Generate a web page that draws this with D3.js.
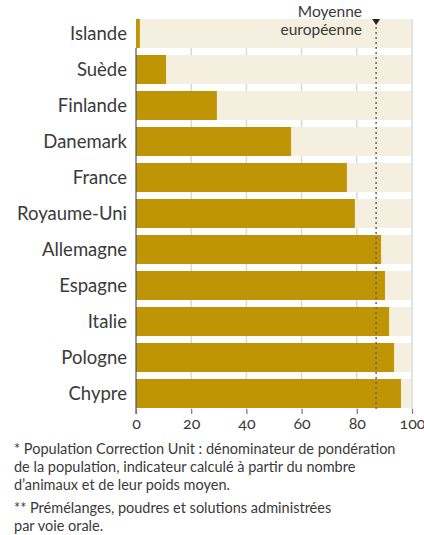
<!DOCTYPE html>
<html><head><meta charset="utf-8">
<script src="https://cdn.jsdelivr.net/npm/d3@7"></script>
<style>
body{margin:0;background:#fff;}
svg{display:block;font-family:Lato,"Open Sans",sans-serif;}
.tick text{font-variant-numeric:oldstyle-nums;}
</style></head>
<body>
<script>
const countries = ["Islande","Suède","Finlande","Danemark","France","Royaume-Uni","Allemagne","Espagne","Italie","Pologne","Chypre"];
const values = [1.4, 10.9, 29.3, 56.2, 76.4, 79.3, 88.8, 90.2, 91.7, 93.5, 96.0];
const euAverage = 87.0;
const ticks = [0, 20, 40, 60, 80, 100];
const avgLabel = ["Moyenne", "européenne"];
const notes = [
  ["* Population Correction Unit : dénominateur de pondération", "de la population, indicateur calculé à partir du nombre", "d’animaux et de leur poids moyen."],
  ["** Prémélanges, poudres et solutions administrées", "par voie orale."]
];

const W = 424, H = 535;
const textColor = "#3a3a3a";
const svg = d3.select("body").append("svg").attr("width", W).attr("height", H);
const x = d3.scaleLinear().domain([0, 100]).range([136, 412]);
const y = d3.scaleBand().domain(countries).range([19, 408]).paddingInner(7 / 36).paddingOuter(0);

// gridlines
svg.append("g").selectAll("line").data(ticks.slice(1)).join("line")
  .attr("x1", d => x(d)).attr("x2", d => x(d))
  .attr("y1", y(countries[0])).attr("y2", 409)
  .attr("stroke", "#d9d9d9").attr("stroke-width", 1.5);

// backgrounds
svg.append("g").selectAll("rect").data(countries).join("rect")
  .attr("x", x(0)).attr("y", d => y(d))
  .attr("width", x(100) - x(0) - 1).attr("height", y.bandwidth())
  .attr("fill", "#f5efdf");

// bars
svg.append("g").selectAll("rect").data(countries).join("rect")
  .attr("x", x(0)).attr("y", d => y(d))
  .attr("width", (d, i) => x(values[i]) - x(0)).attr("height", y.bandwidth())
  .attr("fill", "#bf9505");

// zero line
svg.append("line").attr("x1", x(0)).attr("x2", x(0))
  .attr("y1", y(countries[0]) + y.bandwidth()).attr("y2", 414)
  .attr("stroke", "#555").attr("stroke-width", 1.2);

// axis
const axis = svg.append("g").attr("transform", "translate(0,409)")
  .call(d3.axisBottom(x).tickValues(ticks).tickSize(5).tickPadding(4));
axis.select(".domain").remove();
axis.selectAll(".tick line").attr("stroke", "#777").attr("stroke-width", 1.2);
axis.selectAll(".tick text").attr("font-size", 16).attr("fill", textColor)
  .attr("font-family", "Lato,'Open Sans',sans-serif");

// country labels
svg.append("g").selectAll("text").data(countries).join("text")
  .attr("x", 127).attr("y", d => y(d) + y.bandwidth() / 2)
  .attr("dy", "0.36em").attr("text-anchor", "end")
  .attr("font-size", 18.5).attr("fill", textColor).text(d => d);

// average line
svg.append("line").attr("x1", x(euAverage)).attr("x2", x(euAverage))
  .attr("y1", 22).attr("y2", 409)
  .attr("stroke", "#666").attr("stroke-width", 1.5).attr("stroke-dasharray", "2,3");
svg.append("path")
  .attr("d", `M${x(euAverage) - 4},19 L${x(euAverage) + 4},19 L${x(euAverage)},25 Z`)
  .attr("fill", "#222");
svg.append("g").selectAll("text").data(avgLabel).join("text")
  .attr("x", 362).attr("y", (d, i) => 17 + i * 18)
  .attr("text-anchor", "end").attr("font-size", 15.5).attr("fill", textColor).text(d => d);

// notes
let ny = 454;
notes.forEach((block, b) => {
  block.forEach((line, i) => {
    svg.append("text").attr("x", 14).attr("y", ny).attr("font-size", 14.5)
      .attr("fill", textColor).text(line);
    ny += 18;
  });
  ny += 5;
});
</script>
</body></html>
